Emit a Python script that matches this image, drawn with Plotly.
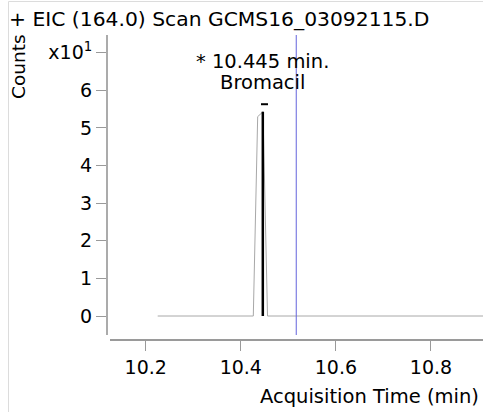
import plotly.graph_objects as go

# Chromatogram (EIC 164.0) – acquisition time (min) vs counts
time_min = [10.2252, 10.4263, 10.4355, 10.4467, 10.4562, 10.95]
counts = [0, 0, 53.0, 54.3, 0, 0]

# Peak apex marker
apex_time = 10.4463
apex_counts = 54.3
peak_label = "* 10.445 min."
compound = "Bromacil"
cursor_time = 10.5166

y_tickvals = [0, 10, 20, 30, 40, 50, 60, 70]
y_ticktext = ["0", "1", "2", "3", "4", "5", "6", "x10<sup>1</sup>"]
x_tickvals = [10.2, 10.4, 10.6, 10.8]
x_ticktext = ["10.2", "10.4", "10.6", "10.8"]

FONT = "DejaVu Sans"
W, H = 483, 412
L, R, T, B = 107, 0, 35, 72
PW, PH = W - L - R, H - T - B

def px(xp):
    return (xp - L) / PW

def py(yp):
    return (H - B - yp) / PH

fig = go.Figure()

fig.add_trace(go.Scatter(x=time_min, y=counts, mode="lines",
                         line=dict(color="#a8a8a8", width=1),
                         hoverinfo="skip", showlegend=False))
fig.add_trace(go.Scatter(x=[apex_time, apex_time], y=[0, apex_counts], mode="lines",
                         line=dict(color="#000000", width=2.5),
                         hoverinfo="skip", showlegend=False))
fig.add_trace(go.Scatter(x=[apex_time + 0.0035], y=[apex_counts + 2.0], mode="markers",
                         marker=dict(symbol="line-ew", size=5, line=dict(color="#000000", width=2)),
                         hoverinfo="skip", showlegend=False))
fig.add_trace(go.Scatter(x=[cursor_time, cursor_time], y=[-10, 100], mode="lines",
                         line=dict(color="#6464dc", width=1),
                         hoverinfo="skip", showlegend=False))

fig.update_layout(
    width=W, height=H,
    margin=dict(l=L, r=R, t=T, b=B, pad=0),
    paper_bgcolor="white", plot_bgcolor="white",
    font=dict(family=FONT, size=19, color="#000000"),
    showlegend=False,
    title=dict(text="+ EIC (164.0) Scan GCMS16_03092115.D", x=9 / W, xref="container",
               xanchor="left", y=1 - 19 / H, yanchor="middle",
               font=dict(family=FONT, size=20.3, color="#000000"), pad=dict(l=0)),
    xaxis=dict(range=[10.1249, 10.9094], domain=[3 / PW, 1], anchor="free", position=0,
               tickvals=x_tickvals, ticktext=x_ticktext,
               showgrid=False, zeroline=False,
               showline=True, linecolor="#9a9a9a", linewidth=2,
               ticks="outside", ticklen=10, tickcolor="#9a9a9a", tickwidth=1,
               tickfont=dict(family=FONT, size=19)),
    yaxis=dict(range=[-5.05, 74.7], domain=[5 / PH, 1], anchor="free", position=0,
               tickvals=y_tickvals, ticktext=y_ticktext,
               showgrid=False, zeroline=False,
               showline=True, linecolor="#ababab", linewidth=2,
               ticks="outside", ticklen=10, tickcolor="#9a9a9a", tickwidth=1,
               tickfont=dict(family=FONT, size=19)),
    shapes=[
        dict(type="line", xref="paper", yref="paper", x0=px(8.5), x1=px(8.5), y0=py(1.5), y1=py(420),
             line=dict(color="#dcdcdc", width=1)),
        dict(type="line", xref="paper", yref="paper", x0=px(8.5), x1=px(490), y0=py(1.5), y1=py(1.5),
             line=dict(color="#dcdcdc", width=1)),
    ],
    annotations=[
        dict(text=peak_label, x=apex_time, xref="x", y=py(61), yref="paper",
             showarrow=False, xanchor="center", yanchor="middle",
             font=dict(family=FONT, size=19.5)),
        dict(text=compound, x=apex_time, xref="x", y=py(82), yref="paper",
             showarrow=False, xanchor="center", yanchor="middle",
             font=dict(family=FONT, size=19.5)),
        dict(text="Counts", x=px(18), xref="paper", y=py(67), yref="paper",
             showarrow=False, textangle=-90, xanchor="center", yanchor="middle",
             font=dict(family=FONT, size=18.5)),
        dict(text="Acquisition Time (min)", x=px(481), xref="paper", y=py(397), yref="paper",
             showarrow=False, xanchor="right", yanchor="middle",
             font=dict(family=FONT, size=19.5)),
    ],
)

fig.write_html("out.html", config={"displayModeBar": False},
               post_script="document.body.style.margin='0';")
